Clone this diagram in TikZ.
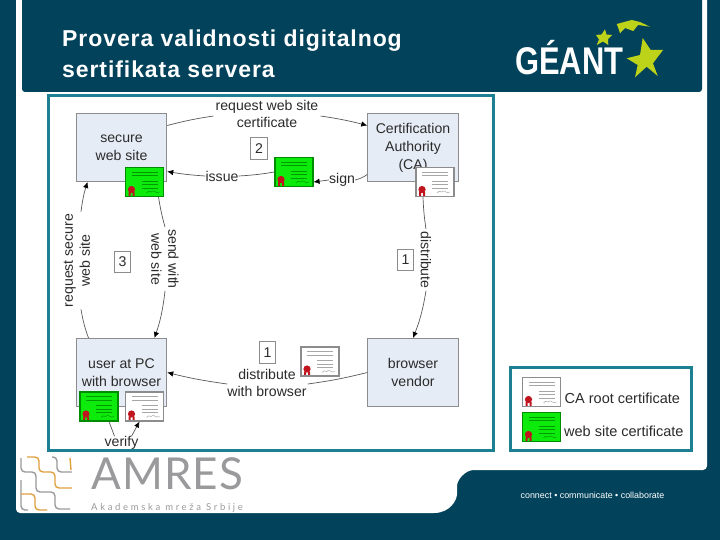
\documentclass[tikz,border=0pt]{standalone}
\usepackage{fontspec}
\setmainfont{Liberation Sans}
\newfontfamily\titlefont[LetterSpace=4]{Liberation Sans}
\newfontfamily\amresfont[LetterSpace=2.5]{Lato}
\newfontfamily\taglinefont[LetterSpace=28]{Lato}
\usetikzlibrary{positioning,arrows.meta,calc}
\definecolor{navy}{HTML}{02425A}
\definecolor{frameteal}{HTML}{1C7F92}
\definecolor{boxfill}{HTML}{E6ECF5}
\definecolor{boxline}{HTML}{8C8C8C}
\definecolor{ink}{HTML}{2B2B2B}
\definecolor{certgreen}{HTML}{0CEB0C}
\definecolor{sealred}{HTML}{C0141E}
\definecolor{lime}{HTML}{BCD319}
\definecolor{amresgray}{HTML}{9A9A9C}
\definecolor{amresorange}{HTML}{E0A040}
\tikzset{
  partybox/.style={draw=boxline,line width=1pt,fill=boxfill,minimum width=90.5pt,minimum height=68pt,
    inner sep=0pt,align=center,text=ink,font=\fontsize{14.1}{18}\selectfont},
  flowlabel/.style={inner sep=0pt,align=center,text=ink,font=\fontsize{14.1}{17}\selectfont},
  keylabel/.style={flowlabel,anchor=base west,font=\fontsize{14.5}{17}\selectfont},
  numbox/.style={draw=boxline,fill=white,line width=1pt,minimum width=16.5pt,minimum height=21.5pt,
    inner sep=0pt,text=ink,font=\fontsize{14.1}{17}\selectfont},
  flowline/.style={draw=black!65,line width=0.7pt},
  flowarrow/.style={flowline,-{Latex[length=6pt,width=5.5pt,black]}},
  certbox/.style n args={3}{draw=#2,fill=#1,line width=1.1pt,minimum width=38pt,minimum height=29pt,inner sep=0pt,
    path picture={
      \begin{scope}[shift={(path picture bounding box.center)},x=1pt,y=-1pt]
        \draw[#3,line width=0.7pt] (-13,-10) -- (13,-10) (-13,-6.5) -- (13,-6.5)
          (-3,-1) -- (13,-1) (-3,2.5) -- (13,2.5) (-3,6) -- (13,6);
        \draw[#3,line width=0.5pt] (2,11) .. controls (5,7) and (6,12) .. (8,9) .. controls (10,8) and (11,12) .. (15,10);
        \fill[sealred] (-13,7.5) circle (3.6pt);
        \fill[sealred] (-16,14) rectangle (-14,10) (-12,14) rectangle (-10,10);
      \end{scope}}},
  whitecert/.style={certbox={white}{black!45}{black!35}},
  greencert/.style={certbox={certgreen}{black!45!green}{black!40!green}},
  tealframe/.style={draw=frameteal,line width=3pt},
  squiggle/.style={line width=1.4pt,rounded corners=4pt}
}
\begin{document}
\begin{tikzpicture}[x=1pt,y=-1pt]
  \useasboundingbox (0,0) rectangle (720,540);
  \fill[navy] (0,0) rectangle (720,540);
  % page panel
  \fill[white,rounded corners=4pt] (16,-6) -- (16,513) -- (430,513)
    .. controls (450,513) and (457,500) .. (457,490)
    .. controls (457,480) and (465,470) .. (478,470) -- (707,470) -- (707,-6) -- cycle;
  \fill[navy,rounded corners=3pt] (22,-6) rectangle (702,92);
  \node[anchor=north west,inner sep=0pt,align=left,text=white,font=\titlefont\bfseries\fontsize{23}{31}\selectfont]
    (title) at (62,29.5) {Provera validnosti digitalnog\\sertifikata servera};
  % geant logo
  \node[anchor=base west,inner sep=0pt,text=white,xscale=0.8,font=\bfseries\fontsize{38.6}{40}\selectfont] (geant) at (515,75) {GÉANT};
  \fill[lime] (642.7,38) -- (650.7,50) -- (663,50) -- (653,63.3) -- (657.7,76) -- (646.7,66.7) -- (635,77.3)
    -- (637.7,65) -- (626.7,58.3) -- (640,55) -- cycle;
  \fill[lime] (605,29.3) -- (606.5,34.5) -- (612.3,35) -- (608,39) -- (608.3,45) -- (603,41.5) -- (596.7,45)
    -- (599,39.5) -- (596,35) -- (601.5,34.5) -- cycle;
  \fill[lime] (616.7,24) -- (631.7,20) -- (640,22) -- (650,26.7) -- (638,25) -- (633.3,31) -- (625,28) -- (620,33.3) -- (618.3,28) -- cycle;
  % amres logo
  \draw[squiggle,amresgray] (21,458) -- (21,472) -- (36,472) -- (36,492) -- (55,492) -- (55,509) -- (70,509);
  \draw[squiggle,amresgray] (52,457) -- (57,457) -- (57,472) -- (72,472);
  \draw[squiggle,amresgray] (21,480) -- (21,510) -- (28,510);
  \draw[squiggle,amresorange] (27,457) -- (39,457) -- (39,472) -- (55,472) -- (55,488) -- (72,488);
  \draw[squiggle,amresorange] (21,494) -- (35,494) -- (35,510) -- (47,510);
  \draw[squiggle,amresorange] (70,458) -- (71,470);
  \node[anchor=base west,inner sep=0pt,text=amresgray,font=\amresfont\fontsize{44}{46}\selectfont] (amres) at (91,489) {AMRES};
  \node[anchor=base west,inner sep=0pt,text=amresgray,font=\taglinefont\fontsize{9.5}{11}\selectfont] (tagline) at (91,510) {Akademska mreža Srbije};
  \node[inner sep=0pt,text=white,font=\fontsize{8.9}{10}\selectfont] (motto) at (592.5,495) {connect • communicate • collaborate};
  % frames
  \draw[tealframe] (48,96) rectangle (493,450);
  \draw[tealframe] (510,367) rectangle (691,450);
  % parties
  \node[partybox] (secure) at (121.5,147.5) {secure\\web site};
  \node[partybox] (ca) at (413,147.5) {Certification\\Authority\\(CA)};
  \node[partybox] (user) at (121.5,372.5) {user at PC\\with browser};
  \node[partybox] (vendor) at (413,372.5) {browser\\vendor};
  % certificates
  \node[greencert] (sitecert) at (144.5,182) {};
  \node[greencert] (midcert) at (294,172) {};
  \node[whitecert] (cacert) at (435,182) {};
  \node[greencert] (usersite) at (99,406.5) {};
  \node[whitecert] (userroot) at (144.5,406.5) {};
  \node[whitecert] (bundle) at (320,361.5) {};
  \node[whitecert] (keyroot) at (541.5,392) {};
  \node[greencert] (keysite) at (541.5,427) {};
  % labels
  \node[flowlabel] (reqcert) at (267,114) {request web site\\certificate};
  \node[flowlabel] (issue) at (222,176) {issue};
  \node[flowlabel] (sign) at (342,180) {sign};
  \node[flowlabel,rotate=90] (reqsite) at (77,260.5) {request secure\\web site};
  \node[flowlabel,rotate=-90] (sendsite) at (165,259) {send with\\web site};
  \node[flowlabel,rotate=-90] (distca) at (426,260) {distribute};
  \node[flowlabel] (distbrowser) at (267,383) {distribute\\with browser};
  \node[flowlabel] (verify) at (121.5,443) {verify};
  \node[numbox] (stepb) at (259,148.5) {2};
  \node[numbox] (stepc) at (122.5,262) {3};
  \node[numbox] (stepa) at (405.5,260) {1};
  \node[numbox] (stepd) at (267.5,352.5) {1};
  % connectors
  \draw[flowline] ([yshift=22pt]secure.east) to[bend left=3] ([xshift=-2pt,yshift=-2pt]reqcert.west);
  \draw[flowarrow] ([xshift=2pt,yshift=-2pt]reqcert.east) to[bend left=3] ([yshift=22pt]ca.west);
  \draw[flowline] ([yshift=-27pt]ca.west) to[bend left=10] (sign.east);
  \draw[flowarrow] (sign.west) -- ([yshift=-10pt]midcert.east);
  \draw[flowline] (midcert.west) to[bend left=3] (issue.east);
  \draw[flowarrow] (issue.west) to[bend left=3] ([yshift=-24pt]secure.east);
  \draw[flowline] ([xshift=14pt]sitecert.south) to[bend right=3] ([yshift=2pt]sendsite.west);
  \draw[flowarrow] ([yshift=-2pt]sendsite.east) to[bend left=6] ([xshift=33pt]user.north);
  \draw[flowline] ([xshift=-33pt]user.north) to[bend left=5] ([xshift=4pt,yshift=-2pt]reqsite.west);
  \draw[flowarrow] ([xshift=4pt,yshift=2pt]reqsite.east) to[bend left=5] ([xshift=-34pt]secure.south);
  \draw[flowline] ([xshift=-12pt]cacert.south) to[bend right=3] ([yshift=2pt]distca.west);
  \draw[flowarrow] ([yshift=-2pt]distca.east) to[bend left=6] (vendor.north);
  \draw[flowline] (vendor.west) to[bend left=3] ([xshift=1pt,yshift=-1pt]distbrowser.east);
  \draw[flowarrow] ([yshift=-1pt]distbrowser.west) to[bend left=3] (user.east);
  \draw[flowline] ([xshift=10pt]usersite.south) -- ([xshift=-7pt]verify.north);
  \draw[flowarrow] ([xshift=10pt]verify.north) -- ([xshift=-5pt]userroot.south);
  % legend
  \node[keylabel] (keyrootlabel) at (564.5,403) {CA root certificate};
  \node[keylabel] (keysitelabel) at (564,436) {web site certificate};
\end{tikzpicture}
\end{document}
